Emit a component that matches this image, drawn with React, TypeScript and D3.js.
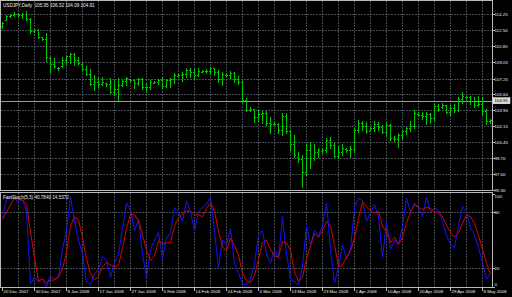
import React from 'react';
import * as d3 from 'd3';

const opens = [112.95,113.65,114.00,114.10,114.30,114.10,114.30,113.75,112.40,112.50,111.75,111.60,109.55,108.90,108.40,108.60,109.30,109.70,109.95,109.30,108.90,108.30,107.75,106.70,106.90,106.70,106.80,106.70,105.90,106.20,106.65,107.00,107.20,107.10,106.80,107.20,106.40,106.35,106.85,106.95,107.10,106.50,107.10,107.20,107.60,107.65,107.80,108.20,108.00,107.70,108.05,108.15,108.10,108.40,108.00,107.20,107.70,107.65,107.90,107.20,106.90,105.00,103.95,104.00,103.20,103.50,103.60,102.50,102.40,102.45,101.80,103.30,101.60,100.20,98.90,98.60,97.20,99.60,98.70,99.40,99.50,99.60,100.70,100.10,99.00,99.40,99.70,99.60,99.70,101.80,102.50,102.20,101.70,102.00,102.40,102.10,101.50,102.30,100.90,100.80,101.20,101.60,102.00,102.20,103.50,103.40,103.30,103.50,103.00,104.30,104.20,104.40,103.70,104.10,103.90,105.10,105.30,105.30,104.90,104.50,104.60,103.80,102.70];
const highs = [113.40,114.15,114.25,114.47,114.36,114.40,114.60,113.85,112.63,112.65,111.77,112.20,109.62,109.51,108.54,109.62,109.84,110.05,110.05,109.62,108.97,108.60,108.33,107.68,107.36,107.47,106.82,107.36,107.14,107.36,107.14,107.50,107.30,107.20,107.40,107.35,106.80,107.10,107.00,107.25,107.50,107.30,107.40,107.90,107.75,108.00,108.40,108.40,108.30,108.40,108.20,108.30,108.50,108.45,108.20,108.00,107.80,108.10,108.00,107.60,107.00,105.20,104.20,104.05,103.90,103.85,103.80,103.20,102.60,102.50,103.60,103.60,101.80,101.20,99.40,99.10,100.20,100.50,100.20,99.80,99.80,100.90,101.00,100.40,100.00,100.20,99.80,100.00,102.00,102.80,102.70,102.60,102.10,102.70,102.60,102.30,102.60,102.40,101.10,101.40,101.80,102.10,102.70,103.90,103.70,103.70,103.70,103.60,104.70,104.60,104.65,104.50,104.40,104.60,105.30,105.80,105.45,105.40,105.30,105.40,105.30,104.00,102.90];
const lows = [112.75,113.60,113.95,114.03,113.95,113.85,113.60,112.20,112.31,111.67,111.45,109.20,108.05,108.44,108.22,108.54,108.76,108.97,108.76,108.87,108.22,107.68,106.61,106.07,106.39,106.61,106.50,105.74,105.53,104.99,106.50,106.61,107.00,106.25,106.60,106.20,105.90,106.20,106.80,106.75,106.30,106.40,106.40,106.80,107.50,107.00,107.50,107.50,107.30,107.60,108.00,107.90,107.80,107.70,106.90,106.60,107.55,107.40,106.90,106.70,104.80,103.80,103.80,102.60,102.70,102.50,102.30,101.40,102.30,101.40,101.20,101.40,99.60,98.85,98.30,95.62,96.90,97.70,98.50,98.85,99.30,99.40,99.80,98.90,98.75,99.10,99.40,98.80,99.40,101.50,101.80,101.40,101.60,101.60,101.80,101.40,101.20,100.70,100.60,99.90,100.80,101.30,101.60,102.00,103.30,102.90,102.40,102.50,102.80,103.80,104.15,103.60,103.40,103.70,103.80,104.70,105.10,104.60,104.20,104.30,103.40,102.40,102.50];
const closes = [113.30,114.05,114.10,114.30,114.10,114.30,113.75,112.40,112.50,111.75,111.60,109.60,108.90,108.60,108.45,109.30,109.70,109.95,109.30,109.00,108.30,107.75,106.70,106.90,106.70,106.95,106.70,105.90,106.20,106.60,107.00,107.35,107.10,106.80,107.20,106.40,106.35,106.90,106.95,107.10,106.50,107.10,107.20,107.70,107.65,107.80,108.20,108.00,107.70,108.10,108.15,108.10,108.40,108.00,107.20,107.80,107.65,107.90,107.20,106.90,105.00,103.90,104.00,103.20,103.50,103.60,102.50,102.40,102.45,101.80,103.30,101.60,100.20,99.10,98.60,97.20,99.60,98.70,99.40,99.60,99.60,100.70,100.10,99.00,99.40,99.80,99.60,99.70,101.80,102.50,102.20,101.60,102.00,102.40,102.10,101.50,102.30,100.90,100.80,101.20,101.60,102.00,102.20,103.60,103.40,103.30,103.50,103.00,104.30,104.00,104.40,103.70,104.10,103.90,105.10,105.40,105.30,104.90,104.50,104.60,103.80,102.70,102.80];

const stochMain = [75,93,96,95,90,94,80,3,10,5,8,0,12,8,10,40,60,96,70,50,35,5,2,14,18,32,28,10,25,35,62,90,82,60,72,35,10,40,50,58,30,52,58,85,80,70,92,80,60,80,85,88,96,60,20,50,45,62,25,15,2,2,8,25,55,60,35,25,40,30,75,35,8,5,2,22,65,45,60,55,65,90,40,4,20,45,30,40,85,95,92,70,80,88,75,31,70,40,50,45,65,95,80,90,85,75,96,80,85,82,70,55,45,42,65,86,80,63,55,42,25,8,14];
const stochSignal = [72,80,88,95,94,93,88,59,31,6,8,4,7,7,10,19,37,65,75,72,52,30,14,7,11,21,26,23,21,23,41,62,78,77,71,56,39,28,33,49,46,47,47,65,74,78,81,81,77,77,75,84,90,81,59,43,38,52,44,34,14,6,4,12,29,47,50,40,33,32,48,47,39,16,5,10,30,44,57,53,60,70,65,45,21,23,32,38,52,73,91,86,81,79,81,65,59,47,53,45,53,68,80,88,85,83,85,84,80,80,75,66,58,53,58,68,77,75,68,55,40,25,13];

const priceTicks = [114.25,112.50,110.80,109.05,107.25,105.60,103.90,102.15,100.45,98.70,97.00,95.30];
const stochTicks = [100,80,20,0];
const stochLevels = [80,20];
const dateLabels = ["20 Dec 2007","30 Dec 2007","8 Jan 2008","17 Jan 2008","27 Jan 2008","5 Feb 2008","14 Feb 2008","24 Feb 2008","4 Mar 2008","13 Mar 2008","23 Mar 2008","1 Apr 2008","10 Apr 2008","20 Apr 2008","29 Apr 2008","8 May 2008"];
const bidPrice = 104.91;
const title = "USDJPY,Daily  105.95 106.32 104.09 104.91";
const stochTitle = "FastStoch(5,3) 40.7840 14.5372";

const FONT = "'Liberation Sans', Arial, sans-serif";

export default function App() {
  const n = opens.length;
  const left = 0.5, right = 492.5;
  const mainTop = 0.5, mainBottom = 190.5;
  const subTop = 192.5, subBottom = 287.5;

  const x = d3.scaleLinear().domain([0, n - 1]).range([2.5, 2.5 + 4 * (n - 1)]);
  const yP = d3.scaleLinear().domain([95.30, 114.25]).range([190, 14]);
  const yS = d3.scaleLinear().domain([0, 100]).range([286.5, 193.5]);

  const r = (v: number) => Math.round(v) + 0.5;

  let barPath = '';
  for (let i = 0; i < n; i++) {
    const xi = x(i);
    const yh = Math.round(yP(highs[i]));
    const yl = Math.round(yP(lows[i])) + 1;
    barPath += `M${xi},${yh}V${Math.max(yl, yh + 1)}`;
    barPath += `M${xi - 1.5},${r(yP(opens[i]))}H${xi - 0.5}`;
    barPath += `M${xi + 0.5},${r(yP(closes[i]))}H${xi + 1.5}`;
  }

  const line = d3.line<number>().x((_, i) => x(i)).y((d) => yS(d));

  const vGrid: number[] = [];
  for (let gx = x(0) + 16; gx < right; gx += 16) vGrid.push(gx);

  const gridColor = '#8a96a2';
  const textColor = '#ececec';
  const dash = '1 2';

  return (
    <svg width={512} height={297} style={{ position: 'absolute', left: 0, top: 0, display: 'block', background: '#000' }}>
      <rect x={0} y={0} width={512} height={297} fill="#000" />
      {vGrid.map((gx, k) => (
        <g key={'vg' + k}>
          <line x1={gx} x2={gx} y1={mainTop + 1} y2={mainBottom} stroke={gridColor} strokeWidth={1} strokeDasharray={dash} />
          <line x1={gx} x2={gx} y1={subTop + 1} y2={subBottom} stroke={gridColor} strokeWidth={1} strokeDasharray={dash} />
        </g>
      ))}
      {priceTicks.slice(0, -1).map((p, k) => (
        <line key={'hg' + k} x1={left + 1} x2={right} y1={r(yP(p))} y2={r(yP(p))} stroke={gridColor} strokeWidth={1} strokeDasharray={dash} />
      ))}
      {stochLevels.map((v, k) => (
        <line key={'sl' + k} x1={left + 1} x2={right} y1={r(yS(v))} y2={r(yS(v))} stroke={gridColor} strokeWidth={1} strokeDasharray={dash} />
      ))}
      <line x1={left} x2={right} y1={r(yP(bidPrice))} y2={r(yP(bidPrice))} stroke="#9a9a9a" strokeWidth={1} shapeRendering="crispEdges" />
      <path d={barPath} stroke="#00c800" strokeWidth={1} fill="none" shapeRendering="crispEdges" />
      <path d={line(stochMain) || ''} stroke="#1414ff" strokeWidth={1} fill="none" />
      <path d={line(stochSignal) || ''} stroke="#e00000" strokeWidth={1} fill="none" />
      <rect x={left} y={mainTop} width={right - left} height={mainBottom - mainTop} fill="none" stroke="#b8b8b8" strokeWidth={1} shapeRendering="crispEdges" />
      <rect x={left} y={subTop} width={right - left} height={subBottom - subTop} fill="none" stroke="#b8b8b8" strokeWidth={1} shapeRendering="crispEdges" />
      {priceTicks.map((p, k) => (
        <g key={'pt' + k}>
          <line x1={right} x2={right + 2} y1={r(yP(p))} y2={r(yP(p))} stroke="#b8b8b8" strokeWidth={1} shapeRendering="crispEdges" />
          <text x={494.5} y={yP(p) + 1.6} fill={textColor} fontSize={4.4} fontFamily={FONT}>{p.toFixed(2)}</text>
        </g>
      ))}
      <rect x={493} y={yP(bidPrice) - 3} width={17} height={6} fill="#d8d8d8" stroke="#ffffff" strokeWidth={0.5} />
      <text x={494.5} y={yP(bidPrice) + 1.6} fill="#000" fontSize={4.4} fontFamily={FONT}>{bidPrice.toFixed(2)}</text>
      {stochTicks.map((v, k) => {
        const yy = Math.min(Math.max(yS(v), 196), 284);
        return (
          <g key={'st' + k}>
            <line x1={right} x2={right + 2} y1={r(yS(v))} y2={r(yS(v))} stroke="#b8b8b8" strokeWidth={1} shapeRendering="crispEdges" />
            <text x={494.5} y={yy + 1.6} fill={textColor} fontSize={4.4} fontFamily={FONT}>{String(v)}</text>
          </g>
        );
      })}
      {dateLabels.map((lab, k) => {
        const xx = x(k * 8);
        return (
          <g key={'dl' + k}>
            <line x1={xx} x2={xx} y1={subBottom} y2={subBottom + 3} stroke="#b8b8b8" strokeWidth={1} shapeRendering="crispEdges" />
            <text x={xx + 1} y={292.8} fill={textColor} fontSize={4.4} fontFamily={FONT}>{lab}</text>
          </g>
        );
      })}
      <text x={3} y={7.2} fill={textColor} fontSize={4.6} fontFamily={FONT} xmlSpace="preserve">{title}</text>
      <text x={3} y={199.3} fill={textColor} fontSize={4.6} fontFamily={FONT}>{stochTitle}</text>
    </svg>
  );
}
